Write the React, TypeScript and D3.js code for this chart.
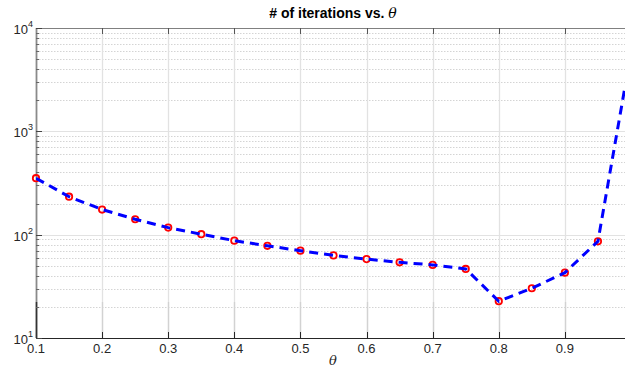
import React, { useEffect, useRef } from 'react';
import * as d3 from 'd3';

// theta values where the solver was run (last one has no marker)
const thetas = [0.1, 0.15, 0.2, 0.25, 0.3, 0.35, 0.4, 0.45, 0.5, 0.55, 0.6, 0.65, 0.7, 0.75, 0.8, 0.85, 0.9, 0.95, 0.99];
const iterations = [352, 233, 175, 141, 117, 101, 87.5, 78, 70, 63, 58, 54, 51, 46.6, 22.7, 30.3, 42.9, 86.3, 2500];
const markedCount = 18;

const xTicks = [0.1, 0.2, 0.3, 0.4, 0.5, 0.6, 0.7, 0.8, 0.9];
const yMajor = [10, 100, 1000, 10000];
const yExponents = ['1', '2', '3', '4'];

const App = () => {
  const svgRef = useRef<SVGSVGElement>(null);

  useEffect(() => {
    const width = 625;
    const height = 369;
    const left = 36;
    const right = 631;
    const top = 28;
    const bottom = 338;

    const svg = d3.select(svgRef.current);
    svg.selectAll('*').remove();
    svg.attr('width', width).attr('height', height);

    const x = d3.scaleLinear().domain([0.1, 1.0]).range([left, right]);
    const y = d3.scaleLog().domain([10, 10000]).range([bottom, top]);

    const yMinor: number[] = [];
    yMajor.slice(0, -1).forEach(m => {
      for (let k = 2; k <= 9; k++) yMinor.push(m * k);
    });

    svg.append('rect').attr('width', width).attr('height', height).attr('fill', '#fff');

    svg.append('defs').append('clipPath').attr('id', 'plotClip')
      .append('rect')
      .attr('x', left).attr('y', top)
      .attr('width', right - left).attr('height', bottom - top);

    const grid = svg.append('g');

    // minor horizontal grid (dotted)
    grid.selectAll('line.minor')
      .data(yMinor)
      .join('line')
      .attr('class', 'minor')
      .attr('x1', left).attr('x2', right)
      .attr('y1', d => Math.round(y(d)) + 0.5).attr('y2', d => Math.round(y(d)) + 0.5)
      .attr('stroke', '#d4d4d4')
      .attr('stroke-dasharray', '1.5,1.5')
      .attr('stroke-width', 1);

    // major horizontal grid
    grid.selectAll('line.major')
      .data(yMajor.slice(1, -1))
      .join('line')
      .attr('class', 'major')
      .attr('x1', left).attr('x2', right)
      .attr('y1', d => Math.round(y(d)) + 0.5).attr('y2', d => Math.round(y(d)) + 0.5)
      .attr('stroke', '#e2e2e2')
      .attr('stroke-width', 1.2);

    // vertical grid
    grid.selectAll('line.vx')
      .data(xTicks.slice(1))
      .join('line')
      .attr('class', 'vx')
      .attr('x1', d => Math.round(x(d)) + 0.5).attr('x2', d => Math.round(x(d)) + 0.5)
      .attr('y1', top).attr('y2', bottom)
      .attr('stroke', '#e2e2e2')
      .attr('stroke-width', 1.3);
    grid.selectAll('line.vxl')
      .data(xTicks.slice(1))
      .join('line')
      .attr('class', 'vxl')
      .attr('x1', d => Math.round(x(d)) + 0.5).attr('x2', d => Math.round(x(d)) + 0.5)
      .attr('y1', 302).attr('y2', bottom)
      .attr('stroke', '#d2d2d2')
      .attr('stroke-width', 1.3);

    // axes box
    const axes = svg.append('g').attr('stroke', '#262626');
    axes.append('line')
      .attr('x1', left).attr('x2', right)
      .attr('y1', bottom + 0.5).attr('y2', bottom + 0.5)
      .attr('stroke-width', 1.2);
    axes.append('line')
      .attr('x1', left).attr('x2', right)
      .attr('y1', top + 0.5).attr('y2', top + 0.5)
      .attr('stroke', '#808080')
      .attr('stroke-width', 1.2);
    axes.append('line')
      .attr('x1', left + 0.5).attr('x2', left + 0.5)
      .attr('y1', top).attr('y2', bottom)
      .attr('stroke', '#8a8a8a')
      .attr('stroke-width', 1.8);
    axes.append('line')
      .attr('x1', left + 0.5).attr('x2', left + 0.5)
      .attr('y1', 302).attr('y2', bottom)
      .attr('stroke', '#333')
      .attr('stroke-width', 1.5);

    // x ticks (inward, top and bottom)
    axes.selectAll('line.xt')
      .data(xTicks.slice(1))
      .join('line')
      .attr('class', 'xt')
      .attr('x1', d => Math.round(x(d)) + 0.5).attr('x2', d => Math.round(x(d)) + 0.5)
      .attr('y1', bottom).attr('y2', bottom - 6)
      .attr('stroke-width', 1);
    axes.selectAll('line.xtt')
      .data(xTicks.slice(1))
      .join('line')
      .attr('class', 'xtt')
      .attr('x1', d => Math.round(x(d)) + 0.5).attr('x2', d => Math.round(x(d)) + 0.5)
      .attr('y1', top).attr('y2', top + 6)
      .attr('stroke', '#555')
      .attr('stroke-width', 1);

    // y ticks
    axes.selectAll('line.ymt')
      .data(yMinor)
      .join('line')
      .attr('class', 'ymt')
      .attr('x1', left).attr('x2', left + 3)
      .attr('y1', d => Math.round(y(d)) + 0.5).attr('y2', d => Math.round(y(d)) + 0.5)
      .attr('stroke', '#666')
      .attr('stroke-width', 1);
    axes.selectAll('line.yMt')
      .data(yMajor)
      .join('line')
      .attr('class', 'yMt')
      .attr('x1', left).attr('x2', left + 6)
      .attr('y1', d => Math.round(y(d)) + 0.5).attr('y2', d => Math.round(y(d)) + 0.5)
      .attr('stroke', '#444')
      .attr('stroke-width', 1);

    const font = '"Liberation Sans", Arial, Helvetica, sans-serif';

    // x tick labels
    svg.append('g')
      .selectAll('text')
      .data(xTicks)
      .join('text')
      .attr('x', d => x(d))
      .attr('y', bottom + 15)
      .attr('text-anchor', 'middle')
      .attr('font-family', font)
      .attr('font-size', 13)
      .attr('fill', '#262626')
      .text(d => d3.format('.1f')(d));

    // y tick labels with superscript exponents
    const yl = svg.append('g')
      .selectAll('text')
      .data(yMajor)
      .join('text')
      .attr('x', 33)
      .attr('y', d => y(d) + 6)
      .attr('text-anchor', 'end')
      .attr('font-family', font)
      .attr('font-size', 13)
      .attr('fill', '#262626');
    yl.append('tspan').text('10');
    yl.append('tspan')
      .attr('dy', -7)
      .attr('font-size', 9)
      .text((d, i) => yExponents[i]);

    // data
    const pts = thetas.map((t, i) => [t, iterations[i]] as [number, number]);

    svg.append('g')
      .selectAll('circle')
      .data(pts.slice(0, markedCount))
      .join('circle')
      .attr('cx', d => x(d[0]))
      .attr('cy', d => y(d[1]))
      .attr('r', 3.2)
      .attr('fill', 'none')
      .attr('stroke', '#ff0000')
      .attr('stroke-width', 1.8);

    const line = d3.line<[number, number]>()
      .x(d => x(d[0]))
      .y(d => y(d[1]));

    svg.append('g').attr('clip-path', 'url(#plotClip)')
      .append('path')
      .attr('d', line(pts))
      .attr('fill', 'none')
      .attr('stroke', '#0000ff')
      .attr('stroke-width', 3)
      .attr('stroke-dasharray', '9,6');

    // title
    const title = svg.append('text')
      .attr('x', 333)
      .attr('y', 18)
      .attr('text-anchor', 'middle')
      .attr('font-family', font)
      .attr('font-size', 14)
      .attr('font-weight', 'bold')
      .attr('fill', '#000');
    title.append('tspan').text('# of iterations vs. ');
    title.append('tspan')
      .attr('font-family', '"DejaVu Serif", "Liberation Serif", serif')
      .attr('font-style', 'italic')
      .attr('font-weight', 'normal')
      .text('θ');

    // x label
    svg.append('text')
      .attr('x', 333)
      .attr('y', 365)
      .attr('text-anchor', 'middle')
      .attr('font-family', '"DejaVu Serif", "Liberation Serif", serif')
      .attr('font-style', 'italic')
      .attr('font-size', 13)
      .attr('fill', '#262626')
      .text('θ');
  }, []);

  return (
    <svg
      ref={svgRef}
      style={{ position: 'absolute', left: 0, top: 0, display: 'block' }}
    ></svg>
  );
};

export default App;
